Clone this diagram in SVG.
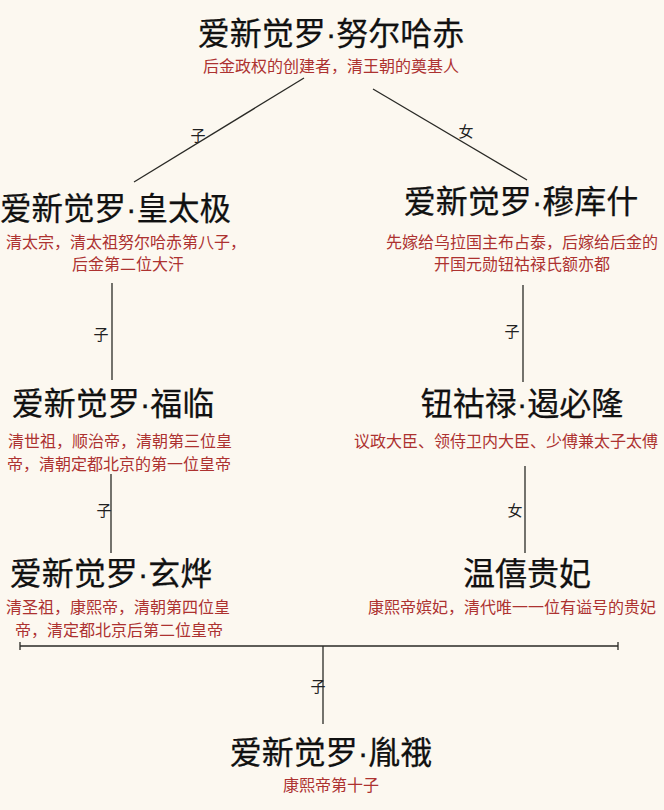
<svg xmlns="http://www.w3.org/2000/svg" width="664" height="810" viewBox="0 0 664 810">
<style>
text{font-family:"Liberation Sans","Noto Sans CJK SC",sans-serif;text-anchor:middle}
.t{font-size:32px;fill:#111;stroke:#111;stroke-width:.25}
.s{font-size:16px;fill:#ad3230}
.l{font-size:15px;fill:#222}
.c line{stroke:#2a2a26;stroke-width:1.3}
</style>
<rect width="664" height="810" fill="#fcf8f0"/>
<g class="c" id="connectors">
<line x1="304" y1="78" x2="134" y2="182"/>
<line x1="373" y1="89" x2="527" y2="180"/>
<line x1="112" y1="283" x2="112" y2="380"/>
<line x1="523" y1="285" x2="523" y2="382"/>
<line x1="111" y1="474" x2="111" y2="553"/>
<line x1="525" y1="466" x2="525" y2="553"/>
<line x1="20" y1="646" x2="618" y2="646"/>
<line x1="20" y1="642" x2="20" y2="650"/>
<line x1="618" y1="642" x2="618" y2="650"/>
<line x1="323" y1="646" x2="323" y2="724"/>
<text class="l" x="198" y="141">子</text>
<text class="l" x="466" y="137">女</text>
<text class="l" x="101" y="340">子</text>
<text class="l" x="512" y="337">子</text>
<text class="l" x="104" y="516">子</text>
<text class="l" x="515" y="516">女</text>
<text class="l" x="318" y="692">子</text>
</g>
<g id="n1"><text class="t" x="331" y="45">爱新觉罗·努尔哈赤</text><text class="s" x="331" y="72">后金政权的创建者，清王朝的奠基人</text></g>
<g id="n2"><text class="t" x="115.5" y="220" style="font-size:31.5px">爱新觉罗·皇太极</text><text class="s" x="126" y="248">清太宗，清太祖努尔哈赤第八子，</text><text class="s" x="128" y="270">后金第二位大汗</text></g>
<g id="n3"><text class="t" x="521" y="213">爱新觉罗·穆库什</text><text class="s" x="522" y="248">先嫁给乌拉国主布占泰，后嫁给后金的</text><text class="s" x="522" y="270">开国元勋钮祜禄氏额亦都</text></g>
<g id="n4"><text class="t" x="113" y="415">爱新觉罗·福临</text><text class="s" x="120" y="447">清世祖，顺治帝，清朝第三位皇</text><text class="s" x="119" y="470">帝，清朝定都北京的第一位皇帝</text></g>
<g id="n5"><text class="t" x="522" y="415">钮祜禄·遏必隆</text><text class="s" x="506" y="447">议政大臣、领侍卫内大臣、少傅兼太子太傅</text></g>
<g id="n6"><text class="t" x="111" y="585">爱新觉罗·玄烨</text><text class="s" x="118" y="613">清圣祖，康熙帝，清朝第四位皇</text><text class="s" x="119" y="636">帝，清定都北京后第二位皇帝</text></g>
<g id="n7"><text class="t" x="527" y="585">温僖贵妃</text><text class="s" x="512" y="613">康熙帝嫔妃，清代唯一一位有谥号的贵妃</text></g>
<g id="n8"><text class="t" x="331" y="764">爱新觉罗·胤䄉</text><text class="s" x="331" y="791">康熙帝第十子</text></g>
</svg>
